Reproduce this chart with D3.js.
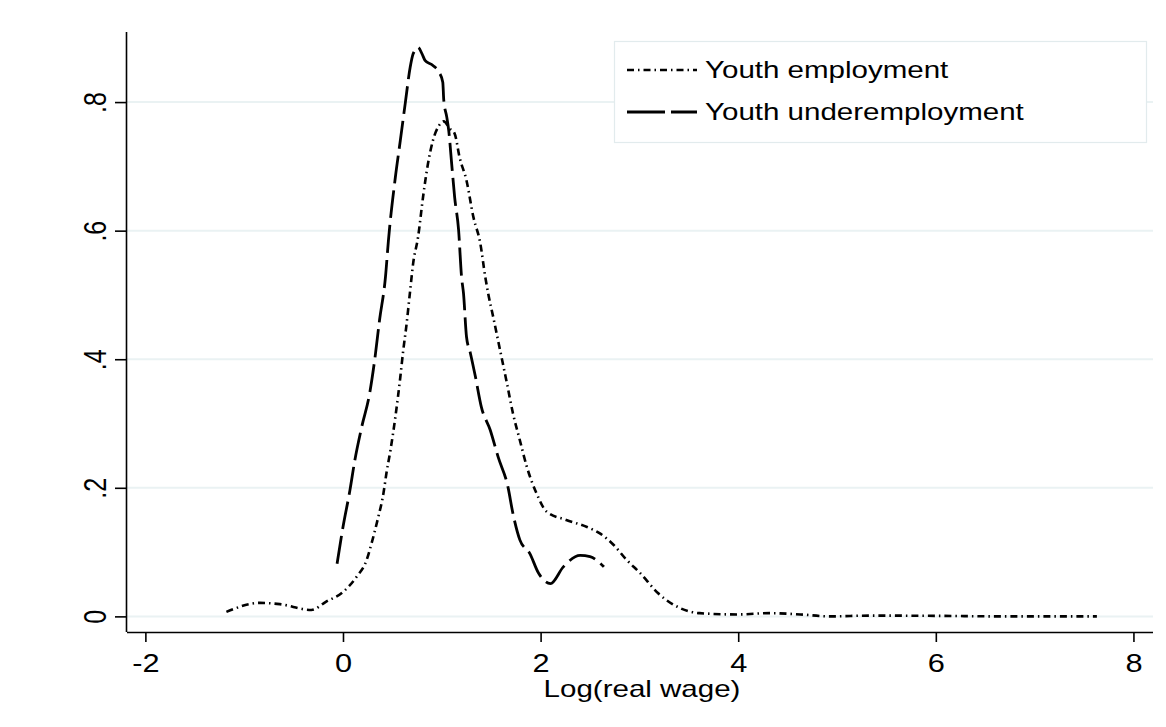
<!DOCTYPE html>
<html>
<head>
<meta charset="utf-8">
<script src="https://cdn.jsdelivr.net/npm/d3@7"></script>
<style>
  html, body { margin: 0; padding: 0; background: #fff; }
  svg { display: block; font-family: "Liberation Sans", Arial, sans-serif; }
</style>
</head>
<body>
<svg id="chart" width="1166" height="727"></svg>
<script>
// ---- Data ----
const xTicks = [-2, 0, 2, 4, 6, 8];
const yTicks = [0, 0.2, 0.4, 0.6, 0.8];
const yTickLabels = ["0", ".2", ".4", ".6", ".8"];
const seriesNames = ["Youth employment", "Youth underemployment"];
const xTitle = "Log(real wage)";

// Youth employment density: [log real wage, density]
const employment = [
  [-1.18, 0.007], [-0.84, 0.021], [-0.64, 0.019], [-0.32, 0.010], [-0.17, 0.023],
  [0.00, 0.038], [0.14, 0.062], [0.24, 0.088], [0.29, 0.114], [0.35, 0.150],
  [0.41, 0.192], [0.44, 0.223], [0.48, 0.258], [0.53, 0.310], [0.58, 0.372],
  [0.61, 0.414], [0.64, 0.450], [0.68, 0.507], [0.71, 0.549], [0.76, 0.590],
  [0.81, 0.652], [0.86, 0.704], [0.91, 0.740], [0.97, 0.763], [1.02, 0.770],
  [1.08, 0.759], [1.13, 0.751], [1.18, 0.714], [1.25, 0.678], [1.32, 0.621],
  [1.39, 0.580], [1.44, 0.528], [1.47, 0.502], [1.52, 0.466], [1.59, 0.414],
  [1.66, 0.362], [1.72, 0.316], [1.79, 0.274], [1.86, 0.233], [1.96, 0.191],
  [2.06, 0.163], [2.26, 0.150], [2.47, 0.139], [2.60, 0.129], [2.74, 0.111],
  [2.87, 0.088], [3.01, 0.067], [3.19, 0.036], [3.41, 0.013], [3.61, 0.005],
  [3.99, 0.003], [4.32, 0.005], [4.63, 0.003], [4.93, 0.000], [5.33, 0.0012],
  [6.04, 0.0008], [6.65, 0.000], [7.63, 0.000]
];

// Youth underemployment density
const underemployment = [
  [-0.06, 0.082], [0.00, 0.139], [0.07, 0.196], [0.12, 0.243], [0.19, 0.295],
  [0.27, 0.347], [0.32, 0.398], [0.37, 0.461], [0.43, 0.528], [0.46, 0.585],
  [0.53, 0.683], [0.58, 0.740], [0.63, 0.798], [0.68, 0.854], [0.71, 0.875],
  [0.76, 0.885], [0.80, 0.875], [0.83, 0.865], [0.91, 0.857], [0.97, 0.847],
  [1.01, 0.831], [1.02, 0.803], [1.05, 0.777], [1.07, 0.756], [1.10, 0.704],
  [1.13, 0.652], [1.17, 0.601], [1.20, 0.528], [1.22, 0.502], [1.25, 0.435],
  [1.29, 0.409], [1.34, 0.373], [1.40, 0.326], [1.49, 0.290], [1.57, 0.248],
  [1.67, 0.201], [1.72, 0.160], [1.79, 0.119], [1.89, 0.098], [1.98, 0.067],
  [2.10, 0.051], [2.23, 0.077], [2.40, 0.095], [2.50, 0.093], [2.64, 0.077]
];

// ---- Layout ----
const svg = d3.select("#chart");
const plot = { left: 127, right: 1153, top: 32, bottom: 632 };
const sx = 1.23; // horizontal text stretch seen in the reference

const x = d3.scaleLinear().domain([-2.186, 8.198]).range([plot.left, plot.right]);
const y = d3.scaleLinear().domain([-0.0243, 0.909]).range([plot.bottom, plot.top]);

// gridlines
svg.append("g").selectAll("line").data(yTicks).join("line")
  .attr("x1", plot.left).attr("x2", plot.right)
  .attr("y1", d => y(d)).attr("y2", d => y(d))
  .attr("stroke", "#eaf2f3").attr("stroke-width", 2);

// axes
const xAxis = svg.append("g").attr("transform", `translate(0,${plot.bottom})`)
  .call(d3.axisBottom(x).tickValues(xTicks).tickSize(10).tickSizeOuter(0).tickFormat(d => d < 0 ? "-" + Math.abs(d) : String(d)));
xAxis.select(".domain").attr("stroke", "#000").attr("stroke-width", 1.6).attr("d", `M${plot.left},0.5H${plot.right}`);
xAxis.selectAll(".tick line").attr("stroke", "#000").attr("stroke-width", 1.6);
xAxis.selectAll(".tick text")
  .attr("y", 0).attr("dy", 0)
  .attr("font-size", 25).attr("fill", "#000")
  .attr("text-anchor", "middle")
  .attr("transform", `translate(0,40) scale(${sx},1)`);

const yAxis = svg.append("g").attr("transform", `translate(${plot.left},0)`)
  .call(d3.axisLeft(y).tickValues(yTicks).tickSize(12).tickSizeOuter(0).tickFormat((d, i) => yTickLabels[i]));
yAxis.select(".domain").attr("stroke", "#000").attr("stroke-width", 1.6).attr("d", `M-0.5,${plot.top}V${plot.bottom}`);
yAxis.selectAll(".tick line").attr("stroke", "#000").attr("stroke-width", 1.6);
yAxis.selectAll(".tick text")
  .attr("x", 0).attr("dy", 0).attr("y", 0)
  .attr("font-size", 25).attr("fill", "#000")
  .attr("text-anchor", "middle")
  .attr("transform", `translate(-21,0) scale(${sx},1) rotate(-90)`);

// x title
svg.append("text")
  .attr("transform", `translate(${(plot.left + plot.right) / 2 + 2},697) scale(${sx},1)`)
  .attr("text-anchor", "middle").attr("font-size", 24).attr("fill", "#000")
  .text(xTitle);

// curves
const line = d3.line().x(d => x(d[0])).y(d => y(d[1])).curve(d3.curveMonotoneX);
const styles = [
  { dash: "7,4,1.5,4", width: 2.6, legendDash: "7,4,1.5,4" },
  { dash: "28,7", width: 2.8, legendDash: "38,6" }
];
[employment, underemployment].forEach((s, i) => {
  svg.append("path").datum(s)
    .attr("d", line)
    .attr("fill", "none").attr("stroke", "#000")
    .attr("stroke-width", styles[i].width)
    .attr("stroke-dasharray", styles[i].dash)
    .attr("stroke-linejoin", "round");
});

// legend
const lg = svg.append("g");
lg.append("rect").attr("x", 614.5).attr("y", 41.5).attr("width", 532).attr("height", 101)
  .attr("fill", "#fff").attr("stroke", "#e2ebed").attr("stroke-width", 1.2);
const legendRows = [78, 120];
seriesNames.forEach((name, i) => {
  lg.append("line")
    .attr("x1", 627).attr("x2", 697)
    .attr("y1", legendRows[i] - 8).attr("y2", legendRows[i] - 8)
    .attr("stroke", "#000").attr("stroke-width", styles[i].width)
    .attr("stroke-dasharray", styles[i].legendDash);
  lg.append("text")
    .attr("transform", `translate(705,${legendRows[i]}) scale(${sx},1)`)
    .attr("font-size", 24).attr("fill", "#000")
    .text(name);
});
</script>
</body>
</html>
